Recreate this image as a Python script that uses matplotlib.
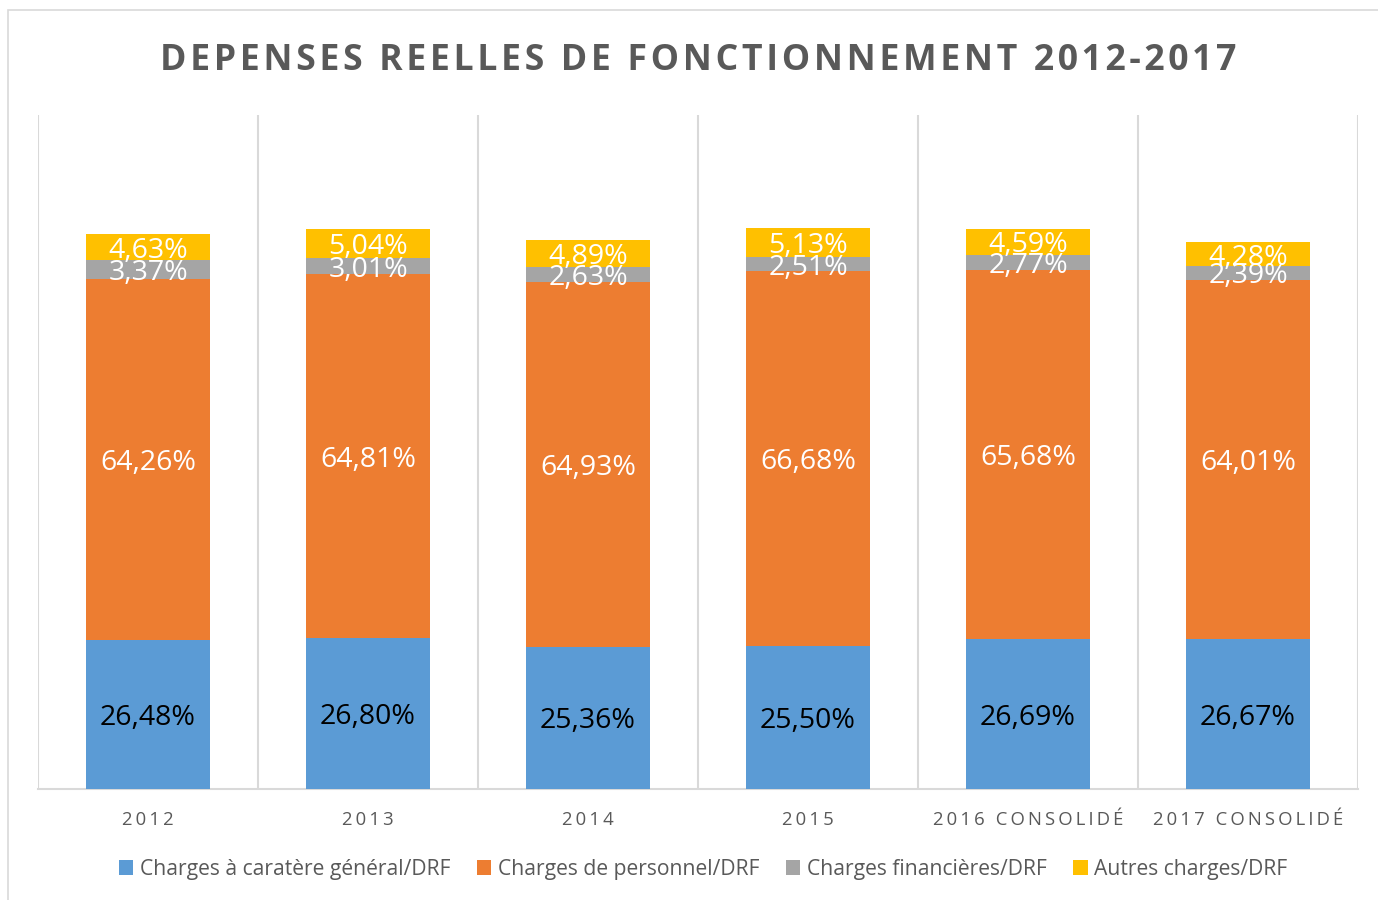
import matplotlib
matplotlib.use("Agg")
import matplotlib.pyplot as plt
from matplotlib.patches import Rectangle
import numpy as np

plt.rcParams["font.family"] = ["Open Sans", "DejaVu Sans"]

# données
annees = ["2012", "2013", "2014", "2015", "2016 CONSOLIDÉ", "2017 CONSOLIDÉ"]
charges_generales = [26.48, 26.80, 25.36, 25.50, 26.69, 26.67]
charges_personnel = [64.26, 64.81, 64.93, 66.68, 65.68, 64.01]
charges_financieres = [3.37, 3.01, 2.63, 2.51, 2.77, 2.39]
autres_charges = [4.63, 5.04, 4.89, 5.13, 4.59, 4.28]

series = [
    ("Charges à caratère général/DRF", charges_generales, "#5B9BD5", "black"),
    ("Charges de personnel/DRF", charges_personnel, "#ED7D31", "white"),
    ("Charges financières/DRF", charges_financieres, "#A5A5A5", "white"),
    ("Autres charges/DRF", autres_charges, "#FFC000", "white"),
]

def espacer(s, sep="\u2009"):
    return sep.join(list(s))

fig = plt.figure(figsize=(13.78, 9), dpi=100)
ax = fig.add_axes([38 / 1378, 1 - 789 / 900, 1320 / 1378, 674 / 900])

# cadre du graphique
fig.patches.append(Rectangle((8 / 1378, -0.1), 1.1, 1 - 10 / 900 + 0.1,
                             transform=fig.transFigure, fill=False,
                             edgecolor="#d9d9d9", linewidth=1.2))

x = np.arange(len(annees))
bas = np.zeros(len(annees))
handles = []
for nom, vals, couleur, couleur_txt in series:
    vals = np.array(vals)
    b = ax.bar(x, vals, 0.56, bottom=bas, color=couleur, label=nom, zorder=3)
    handles.append(b)
    for xi, v, b0 in zip(x, vals, bas):
        ax.text(xi, b0 + v / 2, ("%.2f%%" % v).replace(".", ","),
                ha="center", va="center_baseline", color=couleur_txt,
                fontsize=20.5, zorder=4)
    bas = bas + vals

ax.set_xlim(-0.5, len(annees) - 0.5)
ax.set_ylim(0, 120)
ax.set_yticks([])
ax.set_xticks(x)
ax.set_xticklabels([espacer(a) for a in annees], fontsize=13.3, color="#595959")
ax.tick_params(axis="x", length=0, pad=16)
for k in range(len(annees) + 1):
    ax.axvline(k - 0.5, color="#d9d9d9", linewidth=1.5, zorder=1)
for s in ["top", "left", "right"]:
    ax.spines[s].set_visible(False)
ax.spines["bottom"].set_color("#d9d9d9")
ax.spines["bottom"].set_linewidth(1.5)

fig.text(698 / 1378, 1 - 57 / 900,
         espacer("DEPENSES REELLES DE FONCTIONNEMENT 2012-2017", "\u200a"),
         ha="center", va="center_baseline", fontsize=25.7, fontweight="bold",
         color="#595959")

fig.legend(handles=handles, loc="center", bbox_to_anchor=(703 / 1378, 1 - 869 / 900),
           ncol=4, frameon=False, fontsize=15.2, labelcolor="#595959",
           handlelength=0.7, handleheight=0.7, handletextpad=0.3, columnspacing=1.25)

fig.savefig("out.png", dpi=100)
